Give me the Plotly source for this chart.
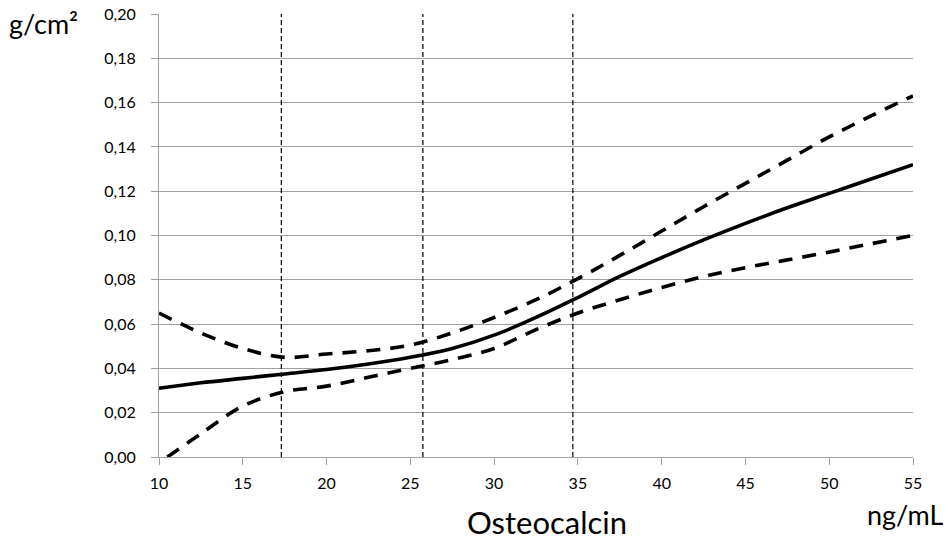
import plotly.graph_objects as go

# Data
x_vals = [10, 12.5, 15, 17.5, 20, 22.5, 25, 27.5, 30, 32.5, 35, 37.5, 40, 42.5, 45, 47.5, 50, 52.5, 55]
estimate = [0.031, 0.0335, 0.0355, 0.0375, 0.0395, 0.042, 0.045, 0.049, 0.055, 0.063, 0.072,
            0.0815, 0.090, 0.098, 0.1055, 0.1125, 0.119, 0.1255, 0.132]
upper_ci = [0.065, 0.056, 0.049, 0.045, 0.0465, 0.048, 0.0505, 0.056, 0.063, 0.071, 0.0805,
            0.091, 0.102, 0.113, 0.1235, 0.134, 0.1445, 0.154, 0.163]
lower_x = [10.5, 12.5, 15, 17.5, 20, 22.5, 25, 27.5, 30, 32.5, 35, 37.5, 40, 42.5, 45, 47.5, 50, 52.5, 55]
lower_ci = [0.0, 0.0105, 0.023, 0.0295, 0.032, 0.036, 0.040, 0.044, 0.049, 0.0575, 0.065,
            0.071, 0.0765, 0.0815, 0.0855, 0.089, 0.0925, 0.0963, 0.100]
cutoffs = [17.3, 25.75, 34.7]
y_ticks = [0.00, 0.02, 0.04, 0.06, 0.08, 0.10, 0.12, 0.14, 0.16, 0.18, 0.20]
x_ticks = [10, 15, 20, 25, 30, 35, 40, 45, 50, 55]

FONT = "Lato"
GRID = "#a0a0a0"

fig = go.Figure()
fig.add_trace(go.Scatter(x=x_vals, y=upper_ci, mode="lines",
                         line=dict(color="black", width=3.6, dash="14px,10px", shape="spline"),
                         showlegend=False))
fig.add_trace(go.Scatter(x=lower_x, y=lower_ci, mode="lines",
                         line=dict(color="black", width=3.6, dash="14px,10px", shape="spline"),
                         showlegend=False))
fig.add_trace(go.Scatter(x=x_vals, y=estimate, mode="lines",
                         line=dict(color="black", width=3.6, shape="spline"),
                         showlegend=False))

for c in cutoffs:
    fig.add_shape(type="line", xref="x", yref="y", x0=c, x1=c, y0=0, y1=0.20,
                  line=dict(color="black", width=1.2, dash="5px,3px"), layer="above")

# page body has an 8px margin, so offsets compensate for it
fig.update_layout(
    width=951, height=539,
    margin=dict(l=151, r=46, t=6, b=90, autoexpand=False),
    paper_bgcolor="white", plot_bgcolor="white",
    separators=", ",
    font=dict(family=FONT, color="black", size=16),
    xaxis=dict(range=[10, 55], tickvals=x_ticks, showgrid=False, zeroline=False,
               showline=True, linecolor=GRID, linewidth=1, automargin=False,
               ticks="outside", ticklen=7, tickcolor=GRID, tickwidth=1,
               ticklabeloverflow="allow",
               tickfont=dict(family=FONT, size=16, color="black"), ticklabelstandoff=5),
    yaxis=dict(range=[0, 0.20], tickvals=y_ticks, tickformat=".2f",
               showgrid=True, gridcolor=GRID, gridwidth=1, zeroline=False,
               showline=True, linecolor=GRID, linewidth=1, automargin=False,
               ticks="outside", ticklen=7, tickcolor=GRID, tickwidth=1,
               ticklabeloverflow="allow",
               tickfont=dict(family=FONT, size=16, color="black"), ticklabelstandoff=12),
    annotations=[
        dict(text="g/cm²", xref="paper", yref="paper", x=-0.2, y=1.0, xshift=-1,
             xanchor="left", yanchor="middle", showarrow=False,
             font=dict(family=FONT, size=27, color="black"), yshift=-9),
        dict(text="Osteocalcin", xref="paper", yref="paper", x=0.515, y=0, yshift=-65,
             xanchor="center", yanchor="middle", showarrow=False,
             font=dict(family=FONT, size=31, color="black")),
        dict(text="ng/mL", xref="paper", yref="paper", x=1.0, y=0, yshift=-57, xshift=33,
             xanchor="right", yanchor="middle", showarrow=False,
             font=dict(family=FONT, size=27, color="black")),
    ],
)

fig.write_html("out.html")
